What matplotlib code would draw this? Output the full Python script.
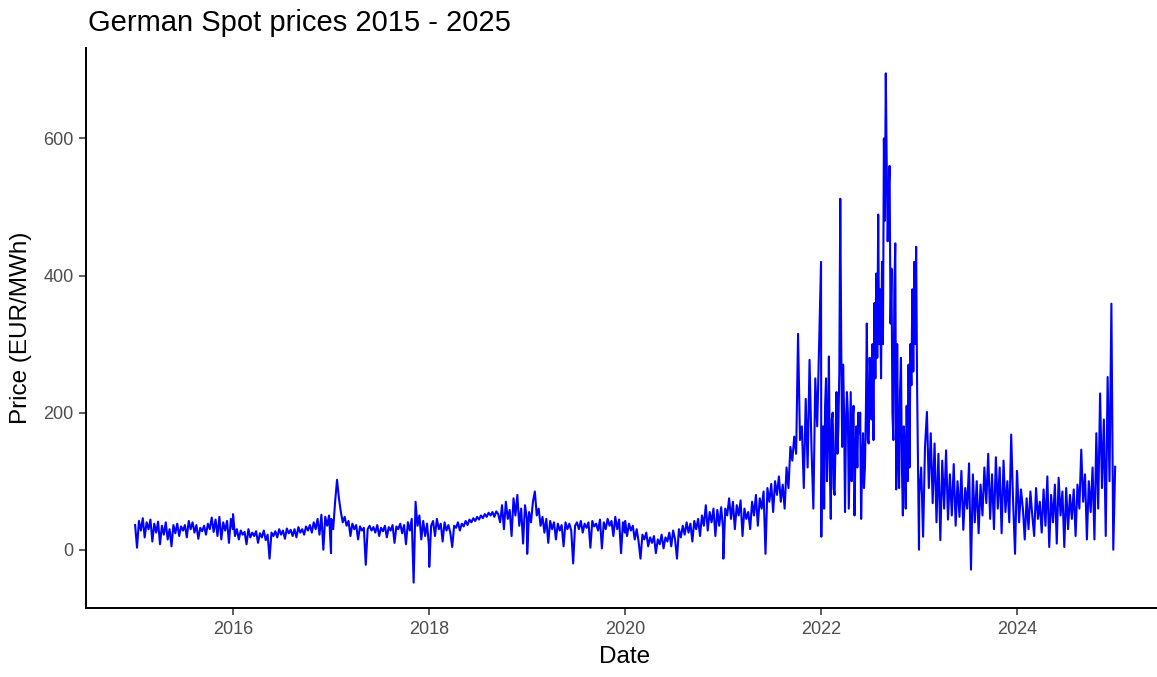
import numpy as np
import pandas as pd
import matplotlib
matplotlib.use("Agg")
import matplotlib.pyplot as plt
import matplotlib.dates as mdates

plt.rcParams['font.family'] = ['Liberation Sans', 'DejaVu Sans']

# spot prices (EUR/MWh), one list per calendar year, evenly spaced over the year
p2015 = [36, 3, 42, 28, 46, 18, 40, 30, 44, 12, 38, 25, 41, 8, 35, 22, 40, 15, 30, 5, 36, 24, 38, 20, 34, 28,
         36, 18, 42, 30, 40, 25, 36, 16, 32, 27, 35, 22, 38, 30, 47, 26, 44, 20, 48, 15, 40, 28, 42, 10, 45, 30]
p2016 = [52, 20, 30, 15, 28, 22, 26, 8, 30, 18, 25, 20, 27, 10, 24, 18, 28, 14, 22, -13, 25, 20, 27, 18, 30, 22,
         28, 16, 31, 24, 29, 20, 30, 18, 33, 25, 30, 22, 34, 28, 36, 25, 40, 30, 45, 22, 51, 0, 48, 35, 50, -5]
p2017 = [45, 30, 70, 102, 75, 55, 40, 48, 35, 42, 20, 38, 30, 36, 15, 34, 28, 32, -22, 30, 35, 28, 33, 25, 36, 20,
         32, 27, 35, 18, 33, 28, 36, 10, 34, 30, 38, 24, 36, 8, 40, 28, 45, -48, 70, 35, 50, 15, 42, 20, 38, 5]
p2018 = [-25, 35, 42, 20, 45, 30, 38, 12, 40, 28, 36, 25, 4, 35, 32, 40, 28, 38, 34, 42, 36, 44, 40, 46, 42, 48,
         44, 50, 46, 52, 48, 54, 50, 55, 48, 56, 52, 40, 65, 30, 70, 45, 58, 20, 75, 50, 80, 35, 60, 9, 65, 45]
p2019 = [-6, 55, 40, 70, 85, 50, 60, 35, 48, 25, 45, 10, 42, 30, 40, 15, 38, 28, 36, 5, 40, 30, 38, 28, -20, 35,
         40, 30, 42, 25, 38, 32, 40, 3, 42, 34, 38, 28, 44, 2, 40, 30, 45, 35, 42, 20, 48, 30, 44, -5, 40, 25]
p2020 = [42, 20, 38, 28, 35, 15, 30, 12, -13, 22, 15, 25, 5, 18, 10, 20, -5, 15, 8, 22, 2, 18, 12, 25, 5, 28,
         15, -13, 30, 18, 35, 22, 40, 25, 38, 12, 42, 30, 45, 20, 50, 35, 65, 28, 55, 40, 60, 20, 58, 35, 62, 30]
p2021 = [-13, 60, 50, 75, 45, 70, 30, 65, 50, 72, 20, 60, 45, 55, 30, 70, 50, 80, 35, 75, 60, 85, -6, 90, 70, 96,
         55, 100, 80, 107, 70, 95, 60, 120, 90, 150, 130, 165, 140, 315, 160, 180, 90, 220, 120, 277, 150, 60,
         250, 180, 300, 420]
# 2022 sampled twice a week
p2022 = [19, 150, 180, 60, 210, 250, 100, 170, 282, 120, 45, 190, 200, 90, 80, 160, 230, 140, 180, 260,
         512, 300,
         150, 270, 200, 55, 180, 230, 200, 60, 150, 230, 100, 190, 210, 50, 140, 180, 120, 200, 170, 200,
         45, 120, 170, 90,
         120, 200, 330, 160, 155, 280, 240, 190, 300, 160,
         360, 250, 403, 280, 489, 300, 380, 250,
         420, 300, 600, 480, 695, 560, 450, 520, 560, 330,
         410, 200, 160, 380, 447, 88, 300, 150,
         90, 230, 280, 120, 50, 180, 150, 60, 210, 100, 270, 120,
         300, 240, 380, 260, 420, 300, 442, 240,
         120, 0]
p2023 = [80, 120, 19, 150, 201, 90, 170, 68, 155, 40, 140, 14, 130, 60, 145, 44, 110, 50, 125, 35, 100, 48, 115,
         29, 90, 60, 126, -29, 110, 40, 100, 24, 95, 50, 120, 68, 140, 45, 110, 30, 135, 60, 120, 24, 130, 55,
         100, 40, 168, 70, -6, 115]
p2024 = [111, 40, 88, 60, 15, 75, 30, 85, 50, 20, 90, 45, 70, 25, 88, 35, 107, 4, 80, 40, 95, 9, 105, 50, 85, 4,
         90, 30, 80, 45, 88, 20, 95, 60, 146, 70, 110, 15, 100, 55, 120, 15, 170, 60, 228, 90, 190, 20, 252,
         100, 359, 0, 121]

years = {2015: p2015, 2016: p2016, 2017: p2017, 2018: p2018, 2019: p2019,
         2020: p2020, 2021: p2021, 2022: p2022, 2023: p2023, 2024: p2024}

dates, prices = [], []
for yr, vals in years.items():
    dates.extend(pd.date_range(f"{yr}-01-01", f"{yr}-12-31", periods=len(vals)))
    prices.extend(vals)
spot = pd.Series(prices, index=pd.DatetimeIndex(dates))

fig = plt.figure(figsize=(11.57, 6.77), dpi=100)
ax = fig.add_axes([86 / 1157, 1 - 608 / 677, 1078 / 1157, 560 / 677])

ax.plot(spot.index, spot.values, color="#0000FF", linewidth=1.5)

ax.set_xlim(pd.Timestamp("2014-07-02"), pd.Timestamp("2025-07-01"))
ax.set_ylim(-85, 732)
ax.set_yticks([0, 200, 400, 600])
ax.xaxis.set_major_locator(mdates.YearLocator(2))
ax.xaxis.set_major_formatter(mdates.DateFormatter("%Y"))

for side in ["top", "right"]:
    ax.spines[side].set_visible(False)
for side in ["left", "bottom"]:
    ax.spines[side].set_linewidth(1.4)
    ax.spines[side].set_color("black")
ax.tick_params(axis="both", length=5, width=1.1, color="#333333",
               labelsize=13, labelcolor="#4D4D4D", pad=4)

ax.set_xlabel("Date", fontsize=17.5, color="black", labelpad=6)
ax.set_ylabel("Price (EUR/MWh)", fontsize=17.5, color="black", labelpad=8)
ax.set_title("German Spot prices 2015 - 2025", fontsize=21, loc="left", pad=12, x=0.002)

fig.savefig("out.png", dpi=100)
